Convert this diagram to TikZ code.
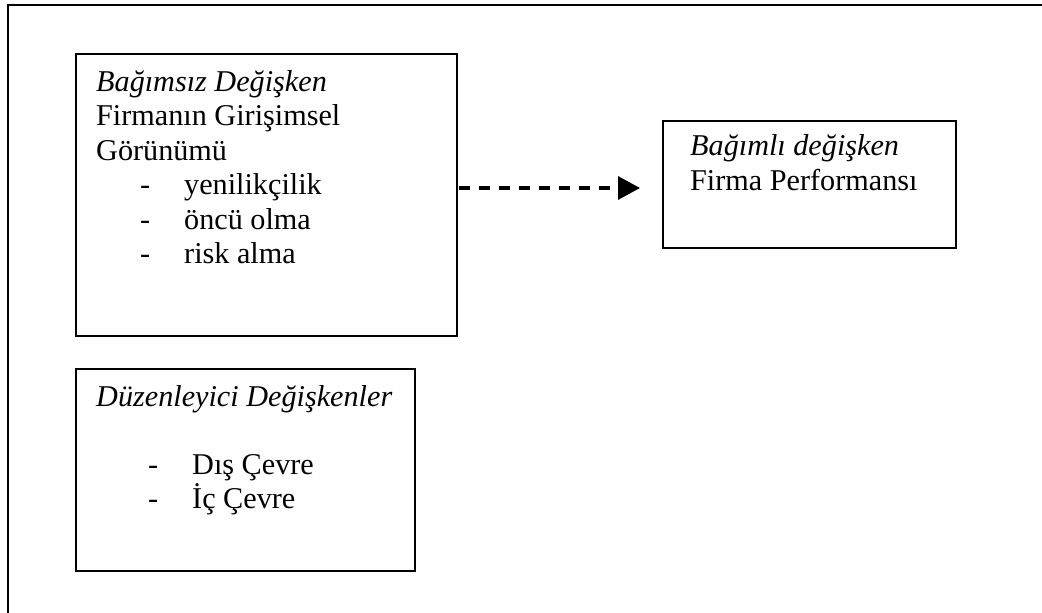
\documentclass[tikz,border=0pt]{standalone}
\usepackage{fontspec}
\setmainfont{Liberation Serif}
\usetikzlibrary{arrows.meta}

\begin{document}
\begin{tikzpicture}[x=1pt,y=-1pt,
  frame/.style={line width=2pt},
  box/.style={draw, line width=1.6pt, inner sep=0pt, anchor=north west},
  txt/.style={anchor=base west, inner sep=0pt, font=\fontsize{30.2}{34.5}\selectfont},
  link/.style={line width=3.2pt, dash pattern=on 11pt off 9pt,
    -{Triangle[length=22pt,width=23pt]}}]

\useasboundingbox (0,0) rectangle (1042,613);
\clip (0,0) rectangle (1042,613);

% page frame (only the top and left edges fall inside the picture)
\draw[frame] (8,640) -- (8,5) -- (1080,5);

% independent variable
\node[box, minimum width=381pt, minimum height=282pt] (indep) at (75,53) {};
\node[txt] (i1) at (96,91)  {\itshape Bağımsız Değişken};
\node[txt] (i2) at (96,125.5) {Firmanın Girişimsel};
\node[txt] (i3) at (96,160) {Görünümü};
\node[txt] (d1) at (140,194.5) {-};
\node[txt] (i4) at (184,194.5) {yenilikçilik};
\node[txt] (d2) at (140,229) {-};
\node[txt] (i5) at (184,229) {öncü olma};
\node[txt] (d3) at (140,263.5) {-};
\node[txt] (i6) at (184,263.5) {risk alma};

% dependent variable
\node[box, minimum width=293pt, minimum height=127pt] (dep) at (662,120) {};
\node[txt] (p1) at (690,155) {\itshape Bağımlı değişken};
\node[txt] (p2) at (690,190.5) {Firma Performansı};

% moderating variables
\node[box, minimum width=339pt, minimum height=202pt] (mod) at (75,368) {};
\node[txt] (m1) at (96,406) {\itshape Düzenleyici Değişkenler};
\node[txt] (e1) at (148,474) {-};
\node[txt] (m2) at (192,474) {Dış Çevre};
\node[txt] (e2) at (148,508) {-};
\node[txt] (m3) at (192,508) {İç Çevre};

% relation between the variables
\coordinate (tip) at (640,188);
\draw[link] (indep.east |- tip) ++(1.5,0) -- (tip);

\end{tikzpicture}
\end{document}
